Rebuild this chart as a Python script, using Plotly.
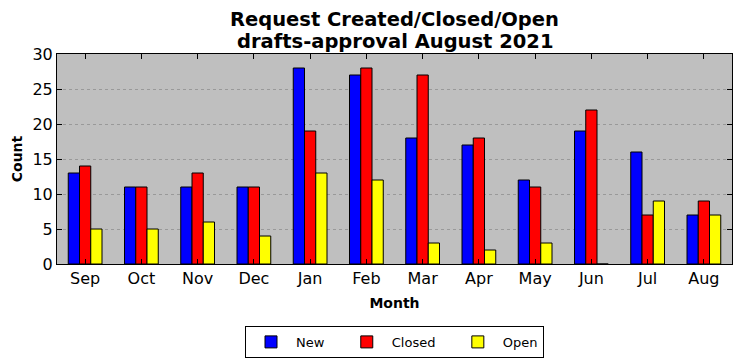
import plotly.graph_objects as go

months = ["Sep", "Oct", "Nov", "Dec", "Jan", "Feb", "Mar", "Apr", "May", "Jun", "Jul", "Aug"]
new_vals = [13, 11, 11, 11, 28, 27, 18, 17, 12, 19, 16, 7]
closed_vals = [14, 11, 13, 11, 19, 28, 27, 18, 11, 22, 7, 9]
open_vals = [5, 5, 6, 4, 13, 12, 3, 2, 3, 0, 9, 7]
title_lines = ["Request Created/Closed/Open", "drafts-approval August 2021"]

series = [("New", new_vals, "#0000ff"), ("Closed", closed_vals, "#ff0000"), ("Open", open_vals, "#ffff00")]

FONT = "DejaVu Sans"
PAD = "\u00a0" * 3
fig = go.Figure()
for name, vals, col in series:
    fig.add_trace(go.Bar(x=months, y=vals, name=name + (PAD if name != "Open" else ""),
                         marker=dict(color=col, line=dict(color="black", width=1))))

# page body has an 8px default margin, so the figure is 8px smaller and margins shifted
fig.update_layout(
    width=734, height=353,
    margin=dict(l=49, r=10, t=46, b=97, autoexpand=False),
    paper_bgcolor="white", plot_bgcolor="#bfbfbf",
    barmode="group", bargap=0.4, bargroupgap=0,
    font=dict(family=FONT, color="black"),
    legend=dict(orientation="h", x=0.5, xanchor="center", y=-0.295, yanchor="top",
                bordercolor="black", borderwidth=1, font=dict(size=13, family=FONT),
                itemwidth=40),
    showlegend=True,
)
for line, shift in zip(title_lines, [35, 13]):
    fig.add_annotation(
        text="<b>" + line + "</b>",
        xref="paper", yref="paper", x=0.5, y=1, xanchor="center", yanchor="middle",
        yshift=shift, showarrow=False, borderpad=0, font=dict(size=19.5, family=FONT),
    )
fig.update_xaxes(
    automargin=False,
    showline=True, linecolor="black", linewidth=1, mirror="ticks",
    ticks="inside", ticklen=5, tickcolor="black",
    tickfont=dict(size=16, family=FONT),
    title=dict(text="<b>Month</b>", font=dict(size=14, family=FONT), standoff=10),
    showgrid=False,
)
fig.update_yaxes(
    automargin=False,
    range=[0, 30], dtick=5,
    showline=True, linecolor="black", linewidth=1, mirror="ticks",
    ticks="inside", ticklen=5, tickcolor="black",
    tickfont=dict(size=16, family=FONT),
    title=dict(text="<b>Count</b>", font=dict(size=14, family=FONT), standoff=6),
    showgrid=True, gridcolor="#999999", griddash="dot", gridwidth=1,
    zeroline=False,
)
fig.write_html("out.html")
